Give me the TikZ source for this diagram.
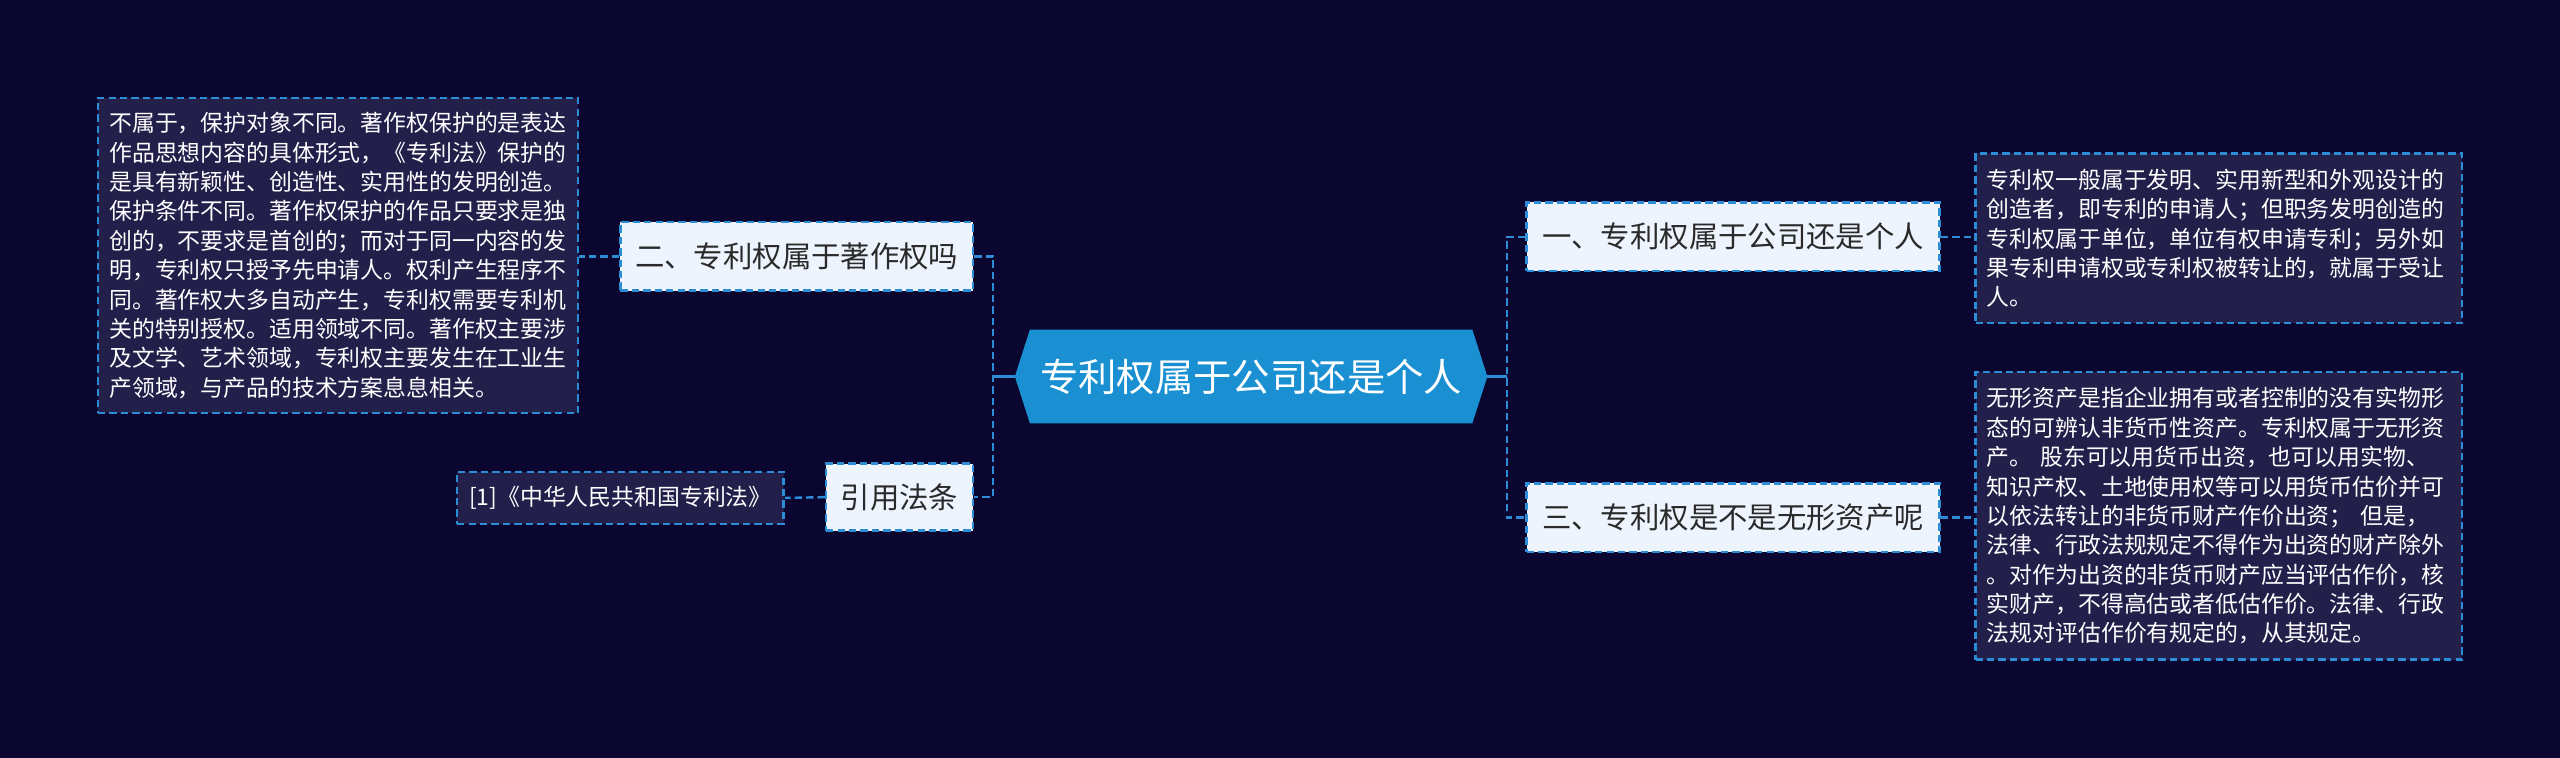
\documentclass[tikz,border=0pt]{standalone}
\usepackage{fontspec}
\setmainfont{Noto Sans CJK SC}
\definecolor{bgc}{HTML}{0A0630}
\definecolor{boxfill}{HTML}{231F4B}
\definecolor{linec}{HTML}{2C8DD6}
\definecolor{lightfill}{HTML}{EEF4FE}
\definecolor{hexfill}{HTML}{1A90D2}
\definecolor{darktext}{HTML}{2A2A2A}
\tikzset{
  dashline/.style={draw=linec, line width=1.5pt, dash pattern=on 4.5pt off 2.5pt},
  solidline/.style={draw=linec, line width=1.5pt},
  textbox/.style={dashline, fill=boxfill, text=white, align=left, inner xsep=7pt, inner ysep=0pt,
    font=\fontsize{14}{18}\selectfont, anchor=center},
  topicbox/.style={dashline, fill=lightfill, text=darktext, inner sep=0pt,
    font=\fontsize{18}{22}\selectfont, anchor=center},
}
\begin{document}
\begin{tikzpicture}[x=1pt,y=-1pt]
\fill[bgc] (0,0) rectangle (1568,464);
\useasboundingbox (0,0) rectangle (1568,464);

% center node
\node[inner sep=0pt, minimum width=289pt, minimum height=57pt, anchor=center] (c) at (766.3,230.6) {};
\fill[hexfill] (c.west) -- ([xshift=9.2pt]c.north west) -- ([xshift=-9.2pt]c.north east) -- (c.east)
  -- ([xshift=-9.2pt]c.south east) -- ([xshift=9.2pt]c.south west) -- cycle;
\node[text=white, font=\fontsize{23.5}{28}\selectfont, anchor=center] (ct) at (c.center) {专利权属于公司还是个人};

% topic nodes
\node[topicbox, minimum width=216pt, minimum height=42pt] (n2) at (488,157) {二、专利权属于著作权吗};
\node[topicbox, minimum width=90pt, minimum height=41pt] (ref) at (551,304.5) {引用法条};
\node[topicbox, minimum width=253pt, minimum height=42pt] (n1) at (1061.5,145) {一、专利权属于公司还是个人};
\node[topicbox, minimum width=253pt, minimum height=42pt] (n3) at (1061.5,317) {三、专利权是不是无形资产呢};

% text boxes
\node[textbox, text width=280pt, minimum height=193pt] (L) at (207,156.5) {%
不属于，保护对象不同。著作权保护的是表达\\
作品思想内容的具体形式，《专利法》保护的\\
是具有新颖性、创造性、实用性的发明创造。\\
保护条件不同。著作权保护的作品只要求是独\\
创的，不要求是首创的；而对于同一内容的发\\
明，专利权只授予先申请人。权利产生程序不\\
同。著作权大多自动产生，专利权需要专利机\\
关的特别授权。适用领域不同。著作权主要涉\\
及文学、艺术领域，专利权主要发生在工业生\\
产领域，与产品的技术方案息息相关。};

\node[textbox, text width=284pt, minimum height=104pt] (TR) at (1359,146) {%
专利权一般属于发明、实用新型和外观设计的\\
创造者，即专利的申请人；但职务发明创造的\\
专利权属于单位，单位有权申请专利；另外如\\
果专利申请权或专利权被转让的，就属于受让\\
人。};

\node[textbox, text width=284pt, minimum height=176pt] (BR) at (1359,316) {%
无形资产是指企业拥有或者控制的没有实物形\\
态的可辨认非货币性资产。专利权属于无形资\\
产。 股东可以用货币出资，也可以用实物、\\
知识产权、土地使用权等可以用货币估价并可\\
以依法转让的非货币财产作价出资； 但是，\\
法律、行政法规规定不得作为出资的财产除外\\
。对作为出资的非货币财产应当评估作价，核\\
实财产，不得高估或者低估作价。法律、行政\\
法规对评估作价有规定的，从其规定。};

\node[textbox, align=center, inner xsep=0pt, minimum width=200pt, minimum height=32pt] (lit) at (380,305) {[1]《中华人民共和国专利法》};

% connectors
\coordinate (lv) at (608.2,0);
\coordinate (rv) at (923,0);
\draw[dashline] (n2.east) -- (n2.east -| lv) -- (ref.east -| lv) -- (ref.east);
\draw[solidline] (c.west) -- (c.west -| lv);
\draw[dashline] (n1.west) -- (n1.west -| rv) -- (n3.west -| rv) -- (n3.west);
\draw[solidline] (c.east) -- (c.east -| rv);
\draw[dashline] (n2.west) -- (L.east |- n2.west);
\draw[dashline] (ref.west) -- (lit.east);
\draw[dashline] (n1.east) -- (TR.west |- n1.east);
\draw[dashline] (n3.east) -- (BR.west |- n3.east);
\end{tikzpicture}
\end{document}
